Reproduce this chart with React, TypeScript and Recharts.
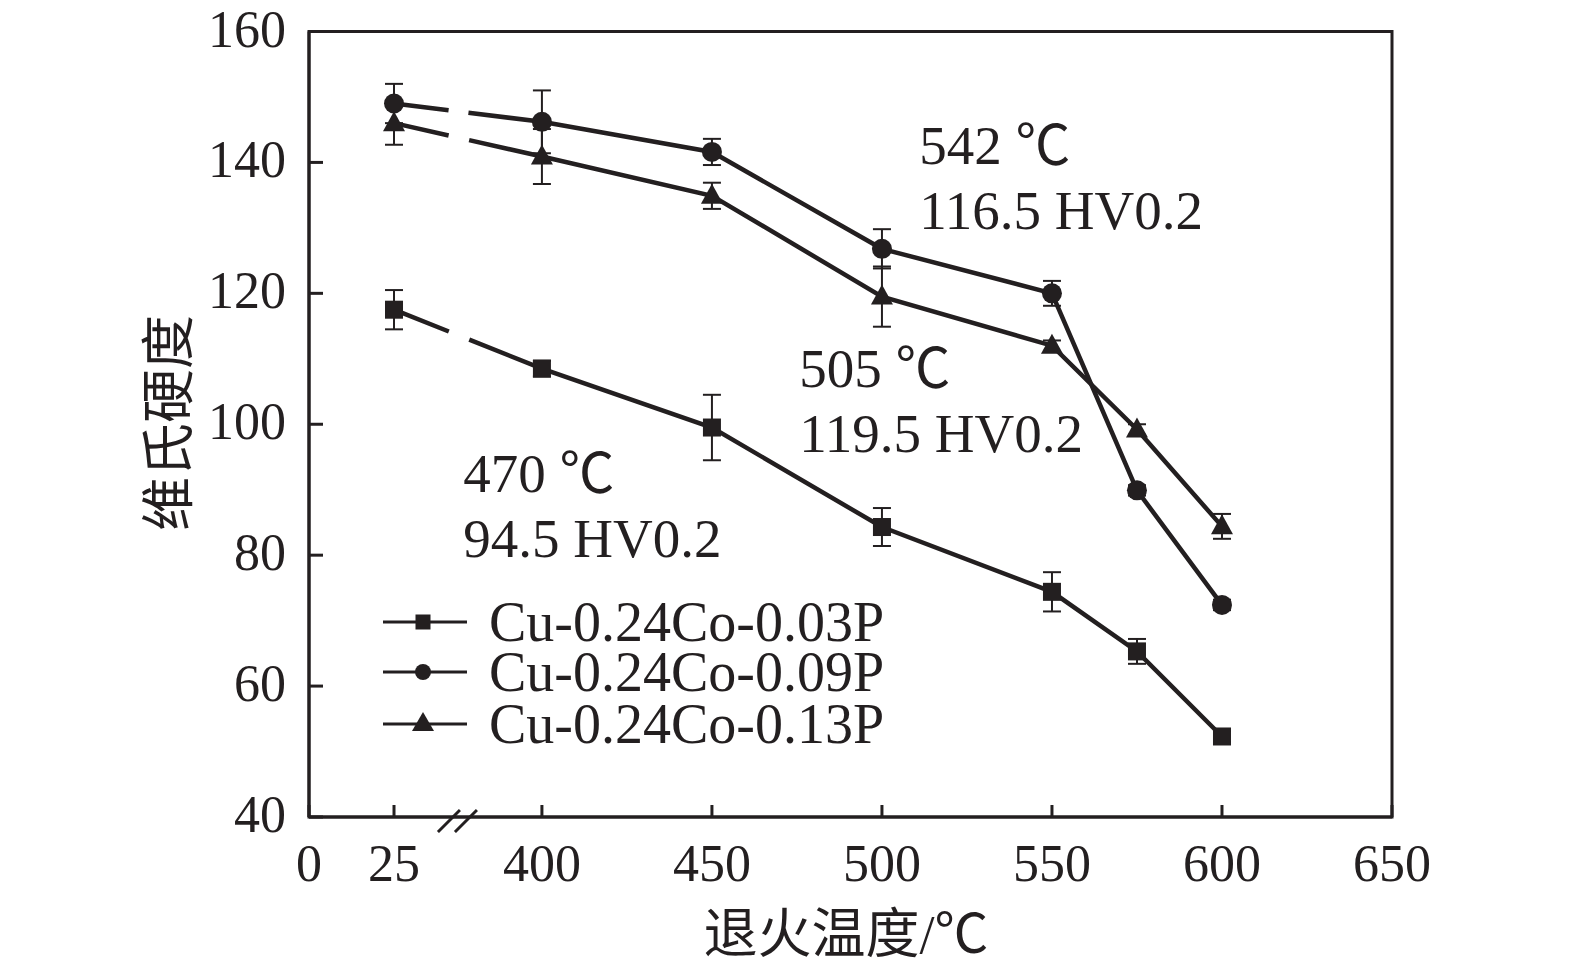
import React from "react";
import {
  ComposedChart,
  Line,
  XAxis,
  YAxis,
  ErrorBar,
  ReferenceArea,
  ReferenceDot,
} from "recharts";

// ---------- data ----------
const temps = [25, 400, 450, 500, 550, 575, 600];
const hv003 = [117.5, 108.5, 99.5, 84.3, 74.4, 65.3, 52.3];
const err003 = [3, 1.2, 5, 2.9, 3, 1.9, 0.8];
const hv009 = [149, 146.2, 141.6, 126.8, 120, 89.9, 72.4];
const err009 = [3, 4.8, 2, 3, 1.9, 0.8, 0.8];
const hv013 = [146, 140.9, 134.9, 119.5, 112, 99.2, 84.4];
const err013 = [3.3, 4.2, 2, 4.6, 0.8, 0.8, 1.9];

const seriesNames = ["Cu-0.24Co-0.03P", "Cu-0.24Co-0.09P", "Cu-0.24Co-0.13P"];
const xTickTemps = [0, 25, 400, 450, 500, 550, 600, 650];
const yTicks = [40, 60, 80, 100, 120, 140, 160];
const annotations = [
  { temp: "542 ℃", hv: "116.5 HV0.2" },
  { temp: "505 ℃", hv: "119.5 HV0.2" },
  { temp: "470 ℃", hv: "94.5 HV0.2" },
];
const xTitle = "退火温度/℃";
const yTitle = "维氏硬度";

// broken axis: low temperatures are shifted right to sit next to 400
const BREAK_SHIFT = 331.5;
const BREAK_AT = 375;
const toAxis = (t: number) => (t < 300 ? t + BREAK_SHIFT : t);

const data = temps.map((t, i) => ({
  x: toAxis(t),
  a: hv003[i],
  ae: err003[i],
  b: hv009[i],
  be: err009[i],
  c: hv013[i],
  ce: err013[i],
}));

// ---------- layout / style ----------
const W = 1559;
const H = 957;
const PLOT_LEFT = 301;
const PLOT_TOP = 23.5;
const PLOT_RIGHT = 1384;
const PLOT_BOTTOM = 809;
const X_AXIS_H = 60;
const INK = "#231f20";
const SERIF = "'Liberation Serif', 'Times New Roman', serif";
const CJK = "'Liberation Serif', 'Noto Sans CJK SC', serif";

const SquareDot = (p: any) =>
  p.cx == null ? null : (
    <rect key={p.key} x={p.cx - 9} y={p.cy - 9} width={18} height={18} fill={INK} />
  );
const CircleDot = (p: any) =>
  p.cx == null ? null : <circle key={p.key} cx={p.cx} cy={p.cy} r={10} fill={INK} />;
const TriDot = (p: any) =>
  p.cx == null ? null : (
    <polygon
      key={p.key}
      points={`${p.cx},${p.cy - 12} ${p.cx - 11},${p.cy + 8} ${p.cx + 11},${p.cy + 8}`}
      fill={INK}
    />
  );

const YTick = (p: any) => (
  <g>
    <line x1={PLOT_LEFT} x2={PLOT_LEFT + 14} y1={p.y} y2={p.y} stroke={INK} strokeWidth={3} />
    <text x={PLOT_LEFT - 23} y={p.y + 15} textAnchor="end" fontSize={52} fontFamily={SERIF} fill={INK}>
      {p.payload.value}
    </text>
  </g>
);

const XTick = (p: any) => {
  const idx = xTickTemps.findIndex((t) => toAxis(t) === p.payload.value);
  const label = idx >= 0 ? String(xTickTemps[idx]) : String(p.payload.value);
  return (
    <g>
      <line x1={p.x} x2={p.x} y1={PLOT_BOTTOM} y2={PLOT_BOTTOM - 12} stroke={INK} strokeWidth={3} />
      <text x={p.x} y={PLOT_BOTTOM + 64} textAnchor="middle" fontSize={52} fontFamily={SERIF} fill={INK}>
        {label}
      </text>
    </g>
  );
};

const BreakMark = (p: any) => (
  <g>
    <line x1={p.cx - 19} y1={p.cy + 15} x2={p.cx + 3} y2={p.cy - 7} stroke={INK} strokeWidth={3} />
    <line x1={p.cx - 2} y1={p.cy + 15} x2={p.cx + 20} y2={p.cy - 7} stroke={INK} strokeWidth={3} />
  </g>
);

const annotationAnchors = [
  { x: 511, y: 139.8 },
  { x: 475.7, y: 105.7 },
  { x: 376.9, y: 89.7 },
];

const makeAnnotation = (i: number) => (p: any) => (
  <text x={p.cx} y={p.cy} fontSize={55} fontFamily={CJK} fill={INK}>
    <tspan x={p.cx} y={p.cy}>{annotations[i].temp}</tspan>
    <tspan x={p.cx} y={p.cy + 65}>{annotations[i].hv}</tspan>
  </text>
);

const Legend = () => {
  const rows = [
    { name: seriesNames[0], kind: "square" },
    { name: seriesNames[1], kind: "circle" },
    { name: seriesNames[2], kind: "tri" },
  ];
  const rowY = [614, 664, 716];
  return (
    <g>
      {rows.map((r, i) => {
        const y = rowY[i];
        const mx = 415;
        return (
          <g key={r.name}>
            <line x1={375} x2={459} y1={y} y2={y} stroke={INK} strokeWidth={3} />
            {r.kind === "square" && <rect x={mx - 7.5} y={y - 7.5} width={15} height={15} fill={INK} />}
            {r.kind === "circle" && <circle cx={mx} cy={y} r={8} fill={INK} />}
            {r.kind === "tri" && (
              <polygon points={`${mx},${y - 12} ${mx - 11},${y + 7} ${mx + 11},${y + 7}`} fill={INK} />
            )}
            <text x={481} y={y + 19} fontSize={56} fontFamily={SERIF} fill={INK}>
              {r.name}
            </text>
          </g>
        );
      })}
    </g>
  );
};

export default function App() {
  return (
    <div style={{ position: "relative", width: W, height: H, background: "#fff", overflow: "hidden" }}>
      <ComposedChart
        width={W}
        height={H}
        data={data}
        margin={{ top: PLOT_TOP, right: W - PLOT_RIGHT, bottom: H - PLOT_BOTTOM - X_AXIS_H, left: 0 }}
      >
        <XAxis
          dataKey="x"
          type="number"
          domain={[toAxis(0), 650]}
          ticks={xTickTemps.map(toAxis)}
          tick={<XTick />}
          tickLine={false}
          axisLine={{ stroke: INK, strokeWidth: 3 }}
          height={X_AXIS_H}
          allowDataOverflow
          interval={0}
        />
        <YAxis
          type="number"
          domain={[40, 160]}
          ticks={yTicks}
          tick={<YTick />}
          tickLine={false}
          axisLine={{ stroke: INK, strokeWidth: 3 }}
          width={PLOT_LEFT}
          allowDataOverflow
          interval={0}
        />
        <ReferenceArea
          x1={toAxis(0)}
          x2={650}
          y1={40}
          y2={160}
          fill="none"
          stroke={INK}
          strokeWidth={3}
          ifOverflow="visible"
        />
        <Line
          dataKey="a"
          stroke={INK}
          strokeWidth={4.5}
          strokeDasharray="59 22 5000"
          dot={SquareDot}
          isAnimationActive={false}
        >
          <ErrorBar dataKey="ae" width={9} strokeWidth={2} stroke={INK} direction="y" />
        </Line>
        <Line
          dataKey="b"
          stroke={INK}
          strokeWidth={4.5}
          strokeDasharray="55 20 5000"
          dot={CircleDot}
          isAnimationActive={false}
        >
          <ErrorBar dataKey="be" width={9} strokeWidth={2} stroke={INK} direction="y" />
        </Line>
        <Line
          dataKey="c"
          stroke={INK}
          strokeWidth={4.5}
          strokeDasharray="56 21 5000"
          dot={TriDot}
          isAnimationActive={false}
        >
          <ErrorBar dataKey="ce" width={9} strokeWidth={2} stroke={INK} direction="y" />
        </Line>
        <ReferenceDot x={BREAK_AT} y={40} r={0} shape={BreakMark} ifOverflow="visible" />
        {annotationAnchors.map((a, i) => (
          <ReferenceDot key={i} x={a.x} y={a.y} r={0} shape={makeAnnotation(i)} ifOverflow="visible" />
        ))}
      </ComposedChart>
      <svg
        width={W}
        height={H}
        style={{ position: "absolute", left: 0, top: 0, pointerEvents: "none" }}
      >
        <Legend />
        <text
          x={838}
          y={927}
          textAnchor="middle"
          dominantBaseline="central"
          fontSize={54}
          fontFamily={CJK}
          fill={INK}
        >
          {xTitle}
        </text>
        <text
          x={162}
          y={415}
          textAnchor="middle"
          dominantBaseline="central"
          fontSize={54}
          fontFamily={CJK}
          fill={INK}
          transform="rotate(-90 162 415)"
        >
          {yTitle}
        </text>
      </svg>
    </div>
  );
}
